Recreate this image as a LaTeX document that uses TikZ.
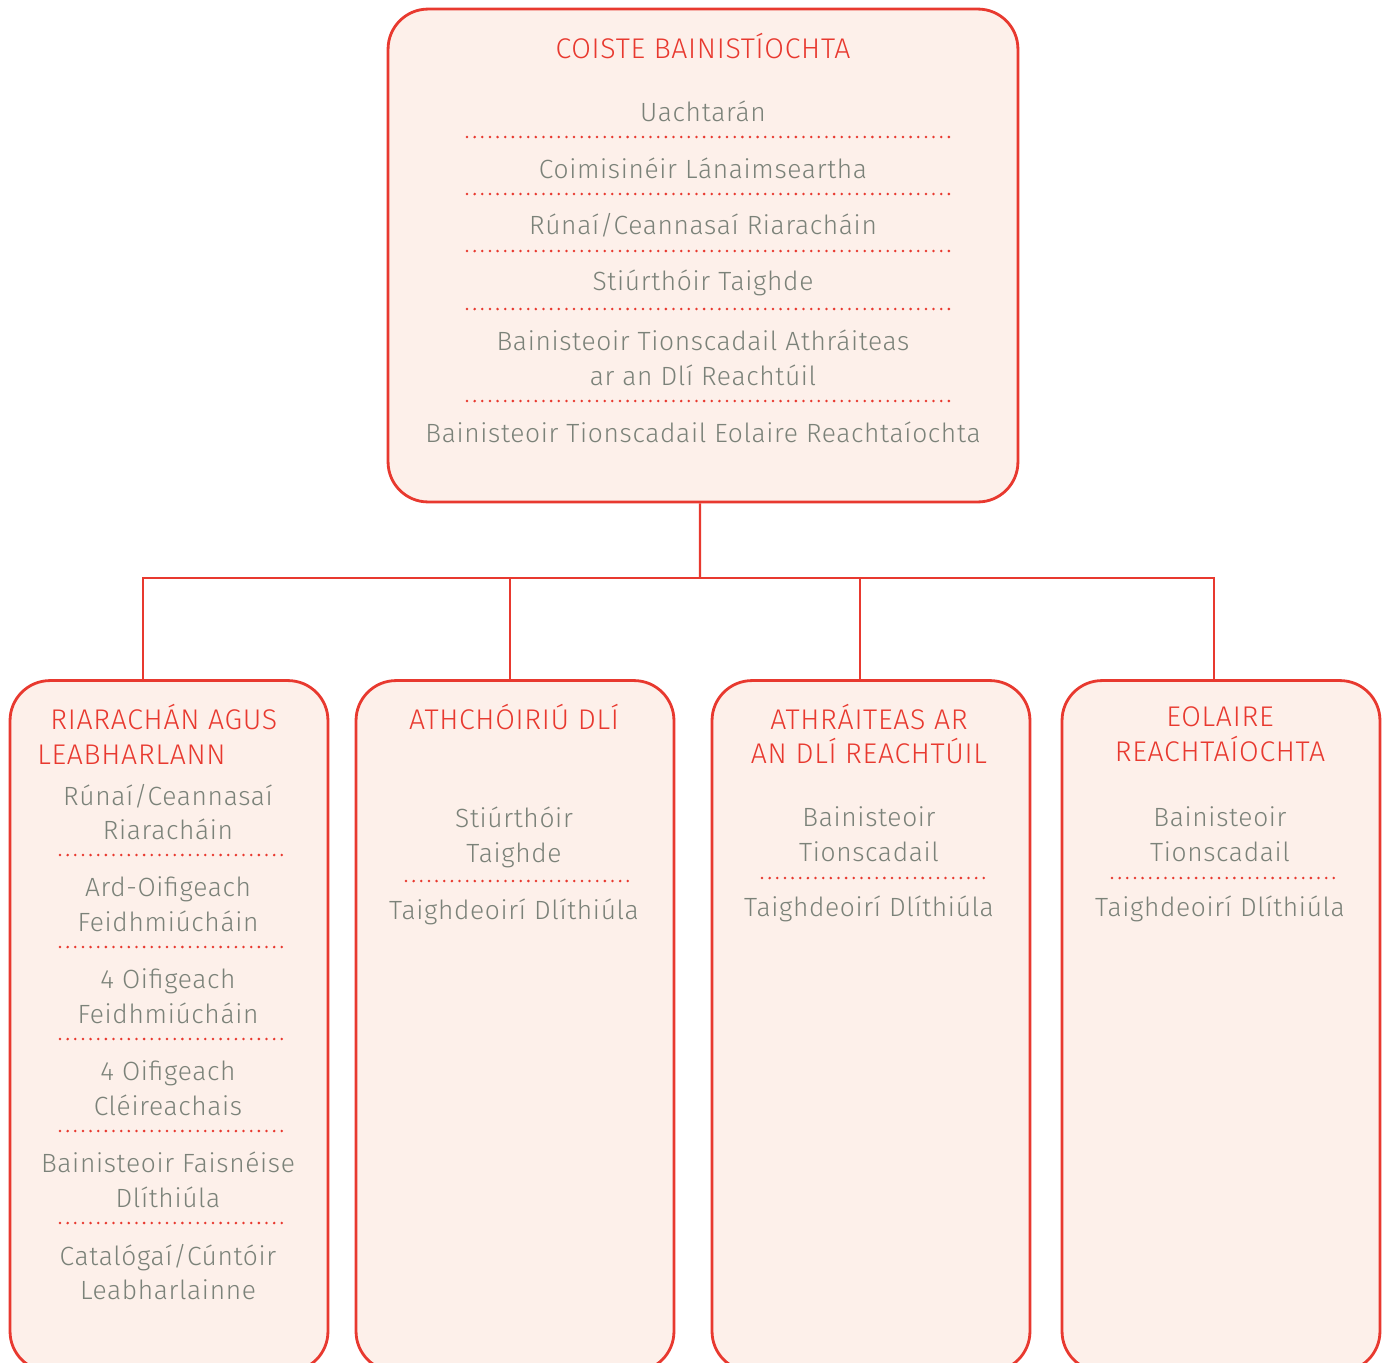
\documentclass[tikz,border=0pt]{standalone}
\usepackage{fontspec}
\setmainfont{Fira Sans Light}[LetterSpace=2.5]
\usepackage{tikz}
\usetikzlibrary{positioning}

\definecolor{redline}{HTML}{E8392F}
\definecolor{boxfill}{HTML}{FDF0EA}
\definecolor{greytext}{HTML}{7B8279}

\tikzset{
  unitbox/.style={draw=redline, fill=boxfill, line width=1.6pt, rounded corners=0.8cm},
  head/.style={text=redline, font=\fontsize{16.2}{19.8}\selectfont, align=center, inner sep=0pt},
  item/.style={text=greytext, font=\fontsize{15}{19.8}\selectfont, align=center, inner sep=0pt},
  sep/.style={draw=redline, line width=1.6pt, line cap=round, dash pattern=on 0pt off 0.153cm},
  link/.style={draw=redline, line width=1.4pt}
}

\begin{document}
\begin{tikzpicture}[x=0.02cm,y=-0.02cm]
        \useasboundingbox (0,0) rectangle (1387,1363);

        % boxes
        \node[unitbox, minimum width=12.6cm, minimum height=9.86cm] (coiste) at (703,255.5) {};
        \node[unitbox, minimum width=6.36cm, minimum height=13.82cm] (riar) at (169,1026) {};
        \node[unitbox, minimum width=6.36cm, minimum height=13.82cm] (athch) at (515,1026) {};
        \node[unitbox, minimum width=6.36cm, minimum height=13.82cm] (athr) at (871,1026) {};
        \node[unitbox, minimum width=6.36cm, minimum height=13.82cm] (eolaire) at (1221,1026) {};

        % connectors
        \coordinate (split) at (700,578);
        \draw[link] ([xshift=-0.06cm]coiste.south) -- (split);
        \draw[link] ([xshift=-0.52cm]riar.north) |- (split) -| ([xshift=-0.14cm]eolaire.north);
        \draw[link] ([xshift=-0.1cm]athch.north) -- ([xshift=-0.1cm]athch.north |- split);
        \draw[link] ([xshift=-0.22cm]athr.north) -- ([xshift=-0.22cm]athr.north |- split);

        % management committee
        \node[head] (coisteT) at (703,46) {COISTE BAINISTÍOCHTA};
        \node[item] (uacht) at (703,111) {Uachtarán};
        \node[item] (coimis) at (703,168) {Coimisinéir Lánaimseartha};
        \node[item] (runai) at (703,225) {Rúnaí/Ceannasaí Riaracháin};
        \node[item] (stiur) at (703,283) {Stiúrthóir Taighde};
        \node[item] (bainA) at (703,358) {Bainisteoir Tionscadail Athráiteas\\ar an Dlí Reachtúil};
        \node[item] (bainE) at (703,432) {Bainisteoir Tionscadail Eolaire Reachtaíochta};
        \foreach \y in {137,194,251,309,401}
          \draw[sep] (467,\y) -- (953,\y);

        % administration and library
        \node[head, align=left, anchor=west] (riarT) at (37,734) {\hspace*{0.26cm}RIARACHÁN AGUS\\LEABHARLANN};
        \node[item] (riarA) at (168,812) {Rúnaí/Ceannasaí\\Riaracháin};
        \node[item] (riarB) at (168,904) {Ard-Oifigeach\\Feidhmiúcháin};
        \node[item] (riarC) at (168,996) {4 Oifigeach\\Feidhmiúcháin};
        \node[item] (riarD) at (168,1088) {4 Oifigeach\\Cléireachais};
        \node[item] (riarE) at (168,1180) {Bainisteoir Faisnéise\\Dlíthiúla};
        \node[item] (riarF) at (168,1272) {Catalógaí/Cúntóir\\Leabharlainne};
        \foreach \y in {855,947,1039,1131,1223}
          \draw[sep] (60,\y) -- (286,\y);

        % law reform
        \node[head] (athchT) at (514,717) {ATHCHÓIRIÚ DLÍ};
        \node[item] (athchA) at (514,837) {Stiúrthóir\\Taighde};
        \draw[sep] (406,881) -- (632,881);
        \node[item] (athchB) at (514,912) {Taighdeoirí Dlíthiúla};

        % restatement
        \node[head] (athrT) at (869,734) {ATHRÁITEAS AR\\AN DLÍ REACHTÚIL};
        \node[item] (athrA) at (869,834) {Bainisteoir\\Tionscadail};
        \draw[sep] (762,878) -- (988,878);
        \node[item] (athrB) at (869,909) {Taighdeoirí Dlíthiúla};

        % legislation directory
        \node[head] (eolaireT) at (1220,734) {EOLAIRE\\REACHTAÍOCHTA};
        \node[item] (eolaireA) at (1220,834) {Bainisteoir\\Tionscadail};
        \draw[sep] (1112,878) -- (1338,878);
        \node[item] (eolaireB) at (1220,909) {Taighdeoirí Dlíthiúla};
\end{tikzpicture}
\end{document}
